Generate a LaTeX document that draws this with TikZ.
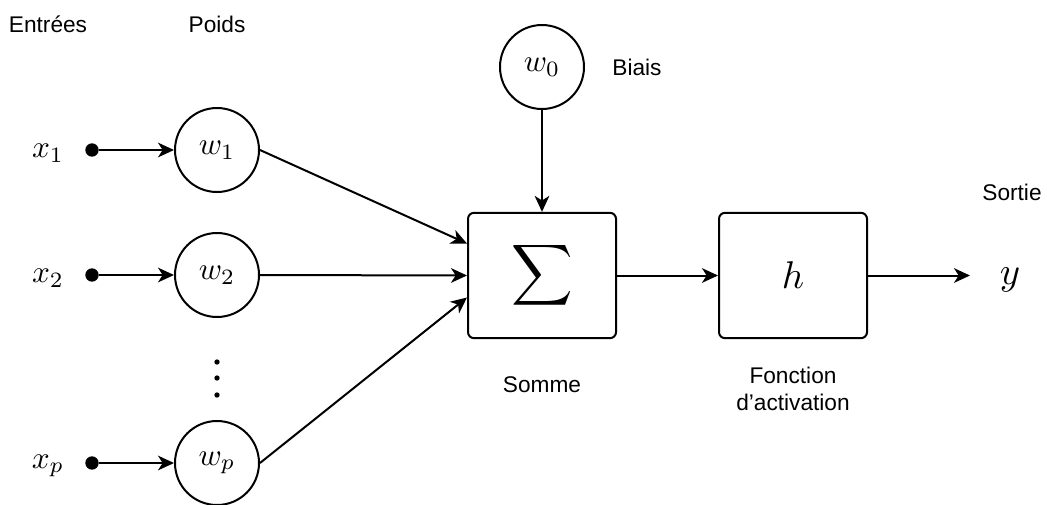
\documentclass[tikz,border=0pt]{standalone}
\usepackage{graphicx}
\usepackage{fontspec}
\setmainfont{Liberation Sans}
\usetikzlibrary{arrows.meta,calc}
\newcommand{\mth}[1]{\scalebox{2.35}{$#1$}}
\newcommand{\mthbig}[1]{\scalebox{2.9}{$#1$}}
\tikzset{
  wcirc/.style={circle,draw,line width=1.5pt,minimum size=63pt,inner sep=0pt},
  opbox/.style={rectangle,rounded corners=4.5pt,draw,line width=1.5pt,minimum width=111pt,minimum height=94pt,inner sep=0pt},
  lbl/.style={font=\fontsize{17}{20}\selectfont,inner sep=0pt},
  mlbl/.style={inner sep=0pt},
  indot/.style={circle,fill,minimum size=10pt,inner sep=0pt},
  smalldot/.style={circle,fill,minimum size=4pt,inner sep=0pt},
  conn/.style={line width=1.5pt,-{Stealth[length=12pt,width=11pt,inset=3.5pt]}}
}
\begin{document}
\begin{tikzpicture}[x=0.75pt,y=-0.75pt]
\useasboundingbox (0,0) rectangle (1047,504);
% headers
\node[lbl] (hin) at (48,24) {Entrées};
\node[lbl] (hw) at (217,24) {Poids};
% inputs
\node[mlbl] (lx1) at (48,153) {\mth{x_1}};
\node[mlbl] (lx2) at (48,278) {\mth{x_2}};
\node[mlbl] (lxp) at (48,466) {\mth{x_p}};
\node[indot] (d1) at (92,150) {};
\node[indot] (d2) at (92,275) {};
\node[indot] (dp) at (92,463) {};
% weights
\node[wcirc] (w1) at (217,150) {\mth{w_1}};
\node[wcirc] (w2) at (217,275) {\mth{w_2}};
\node[wcirc] (wp) at (217,463) {\mth{w_p}};
\node[smalldot] (v1) at (217,362) {};
\node[smalldot] (v2) at (217,378) {};
\node[smalldot] (v3) at (217,395) {};
% bias
\node[wcirc] (w0) at (542,67) {\mth{w_0}};
\node[lbl] (biais) at (637,67) {Biais};
% sum and activation
\node[opbox] (sum) at (542,275.5) {\scalebox{3.2}{$\displaystyle\sum$}};
\node[lbl] (somme) at (542,385) {Somme};
\node[opbox] (h) at (793,275.5) {\mthbig{h}};
\node[lbl,align=center] (fact) at (793,389) {Fonction\\d'activation};
% output
\node[lbl] (sortie) at (1012,192) {Sortie};
\node[mlbl] (y) at (1010,280) {\mthbig{y}};
\coordinate (yin) at (970,275.5);
% connectors
\draw[conn] (d1) -- (w1);
\draw[conn] (d2) -- (w2);
\draw[conn] (dp) -- (wp);
\draw[conn] (w1.east) -- ($(sum.west)+(0,-32)$);
\draw[conn] (w2.east) -- (sum.west);
\draw[conn] (wp.east) -- ($(sum.west)+(0,22)$);
\draw[conn] (w0) -- (sum);
\draw[conn] (sum) -- (h);
\draw[conn] (h) -- (yin);
\end{tikzpicture}
\end{document}
